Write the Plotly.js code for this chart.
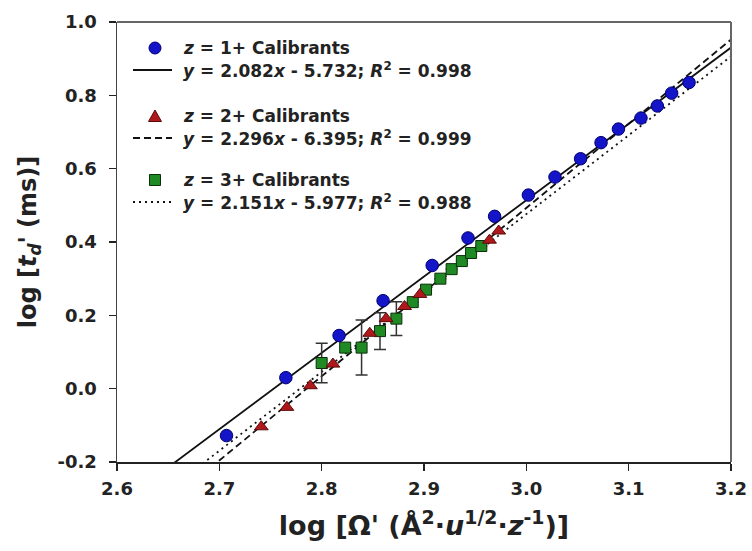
<!DOCTYPE html>
<html>
<head>
<meta charset="utf-8">
<script src="https://cdn.plot.ly/plotly-3.0.1.min.js"></script>
<style>body{margin:0;background:#fff;}#chart{width:752px;height:551px;}</style>
</head>
<body>
<div id="chart"></div>
<script>
// z = 1+ calibrants
const blueX = [2.707, 2.765, 2.817, 2.860, 2.908, 2.943, 2.969, 3.002, 3.028, 3.053, 3.073, 3.090, 3.112, 3.128, 3.142, 3.159];
const blueY = [-0.128, 0.030, 0.145, 0.240, 0.336, 0.411, 0.470, 0.528, 0.577, 0.627, 0.671, 0.708, 0.738, 0.771, 0.806, 0.835];
// z = 2+ calibrants
const redX = [2.741, 2.766, 2.789, 2.811, 2.847, 2.863, 2.881, 2.896, 2.964, 2.973];
const redY = [-0.104, -0.051, 0.008, 0.067, 0.151, 0.191, 0.224, 0.257, 0.405, 0.430];
// z = 3+ calibrants
const greenX = [2.800, 2.823, 2.839, 2.857, 2.873, 2.889, 2.902, 2.916, 2.927, 2.937, 2.946, 2.956];
const greenY = [0.070, 0.112, 0.112, 0.157, 0.191, 0.236, 0.270, 0.300, 0.326, 0.348, 0.370, 0.389];
const greenErr = [0.054, 0, 0.075, 0.050, 0.046, 0, 0, 0, 0, 0, 0, 0];
// linear fits (equations given in the legend)
const fitSlopes = [2.082, 2.296, 2.151];
const fitIntercepts = [-5.732, -6.395, -5.977];
const fitR2 = ['0.998', '0.999', '0.988'];
const fitX = [2.6, 3.2];
const seriesNames = ['<i>z</i> = 1+ Calibrants', '<i>z</i> = 2+ Calibrants', '<i>z</i> = 3+ Calibrants'];
const xTicks = [2.6, 2.7, 2.8, 2.9, 3.0, 3.1, 3.2];
const yTicks = [-0.2, 0.0, 0.2, 0.4, 0.6, 0.8, 1.0];

const FONT = 'DejaVu Sans, Verdana, sans-serif';
const W = 752, H = 551, M = {l: 117, r: 21, t: 22, b: 89};
const PW = W - M.l - M.r, PH = H - M.t - M.b;
const px = p => (p - M.l) / PW;          // pixel -> paper (x)
const py = p => (H - M.b - p) / PH;      // pixel -> paper (y)

const fmt = v => v.toFixed(3);
function fitName(i){
  const b = fitIntercepts[i];
  return '<i>y</i> = ' + fmt(fitSlopes[i]) + '<i>x</i> ' + (b < 0 ? '- ' : '+ ') + fmt(Math.abs(b)) +
         '; <i>R</i><sup>2</sup> = ' + fitR2[i];
}
const fitY = i => fitX.map(x => fitSlopes[i] * x + fitIntercepts[i]);
const dashes = ['solid', '7px,4px', '2px,4px'];
const colors = {blue: '#1414c8', blueEdge: '#000070', red: '#b0191c', redEdge: '#5a0a0a', green: '#1f8a24', greenEdge: '#0b2e0b'};

const traces = [];
for (let i = 0; i < 3; i++) {
  traces.push({
    x: fitX, y: fitY(i), mode: 'lines', type: 'scatter', name: fitName(i),
    line: {color: '#111', width: 1.8, dash: dashes[i]}, hoverinfo: 'skip', showlegend: false
  });
}
traces.push({
  x: greenX, y: greenY, mode: 'markers', type: 'scatter', name: seriesNames[2], showlegend: false,
  error_y: {type: 'data', array: greenErr, visible: true, color: '#333', thickness: 1.5, width: 6},
  marker: {symbol: 'square', size: 11, color: colors.green, line: {color: colors.greenEdge, width: 1}}
});
traces.push({
  x: redX, y: redY, mode: 'markers', type: 'scatter', name: seriesNames[1], showlegend: false,
  marker: {symbol: 'triangle-up', size: 12, color: colors.red, line: {color: colors.redEdge, width: 1}}
});
traces.push({
  x: blueX, y: blueY, mode: 'markers', type: 'scatter', name: seriesNames[0], showlegend: false,
  marker: {symbol: 'circle', size: 12.5, color: colors.blue, line: {color: colors.blueEdge, width: 1}}
});

// ---- hand-placed legend (text rows + key symbols) ----
const legRows = [48, 70, 116, 138, 180, 202];
const legTexts = [seriesNames[0], fitName(0), seriesNames[1], fitName(1), seriesNames[2], fitName(2)];
const annotations = legTexts.map((t, k) => ({
  text: t, xref: 'paper', yref: 'paper', x: px(181), y: py(legRows[k]),
  xanchor: 'left', yanchor: 'middle', showarrow: false,
  font: {family: FONT, size: 17, color: '#222', weight: 'bold'}
}));
const keyX = 155;
const shapes = [
  {type: 'line', xref: 'paper', yref: 'paper', x0: 0, x1: 1, y0: 1, y1: 1, line: {color: '#666', width: 2}},
  {type: 'line', xref: 'paper', yref: 'paper', x0: 1, x1: 1, y0: 0, y1: 1, line: {color: '#666', width: 2}},
  {type: 'circle', xref: 'paper', yref: 'paper', x0: px(keyX - 6), x1: px(keyX + 6), y0: py(legRows[0] + 6), y1: py(legRows[0] - 6),
   fillcolor: colors.blue, line: {color: colors.blueEdge, width: 1}},
  {type: 'path', xref: 'paper', yref: 'paper',
   path: 'M' + px(keyX - 6.5) + ',' + py(legRows[2] + 5.5) + ' L' + px(keyX + 6.5) + ',' + py(legRows[2] + 5.5) +
         ' L' + px(keyX) + ',' + py(legRows[2] - 6) + ' Z',
   fillcolor: colors.red, line: {color: colors.redEdge, width: 1}},
  {type: 'rect', xref: 'paper', yref: 'paper', x0: px(keyX - 5.5), x1: px(keyX + 5.5), y0: py(legRows[4] + 5.5), y1: py(legRows[4] - 5.5),
   fillcolor: colors.green, line: {color: colors.greenEdge, width: 1}}
];
[1, 3, 5].forEach((r, i) => shapes.push({
  type: 'line', xref: 'paper', yref: 'paper', x0: px(133), x1: px(172), y0: py(legRows[r]), y1: py(legRows[r]),
  line: {color: '#111', width: 1.8, dash: dashes[i]}
}));

const layout = {
  width: W, height: H, margin: M,
  paper_bgcolor: '#fff', plot_bgcolor: '#fff',
  font: {family: FONT, color: '#222', size: 16, weight: 'bold'},
  showlegend: false,
  xaxis: {
    range: [2.6, 3.2], tickvals: xTicks, ticktext: xTicks.map(v => v.toFixed(1)),
    ticks: 'outside', ticklen: 7, tickwidth: 1.3, tickcolor: '#222', ticklabelstandoff: 3,
    showline: true, linecolor: '#222', linewidth: 1.5, showgrid: false, zeroline: false,
    tickfont: {family: FONT, size: 18, color: '#222', weight: 'bold'},
    title: {text: 'log [Ω\' (Å<sup>2</sup>·<i>u</i><sup>1/2</sup>·<i>z</i><sup>-1</sup>)]', standoff: 18,
            font: {family: FONT, size: 27, color: '#222', weight: 'bold'}}
  },
  yaxis: {
    range: [-0.2, 1.0], tickvals: yTicks, ticktext: yTicks.map(v => v.toFixed(1)),
    ticks: 'outside', ticklen: 7, tickwidth: 1.3, tickcolor: '#222',
    showline: true, linecolor: '#444', linewidth: 1.5, showgrid: false, zeroline: false,
    ticklabelstandoff: 8,
    tickfont: {family: FONT, size: 18, color: '#222', weight: 'bold'},
    title: {text: 'log [<i>t<sub>d</sub></i>\' (ms)]', standoff: 14,
            font: {family: FONT, size: 24, color: '#222', weight: 'bold'}}
  },
  annotations: annotations,
  shapes: shapes
};

Plotly.newPlot('chart', traces, layout, {displayModeBar: false, staticPlot: true});
</script>
</body>
</html>
